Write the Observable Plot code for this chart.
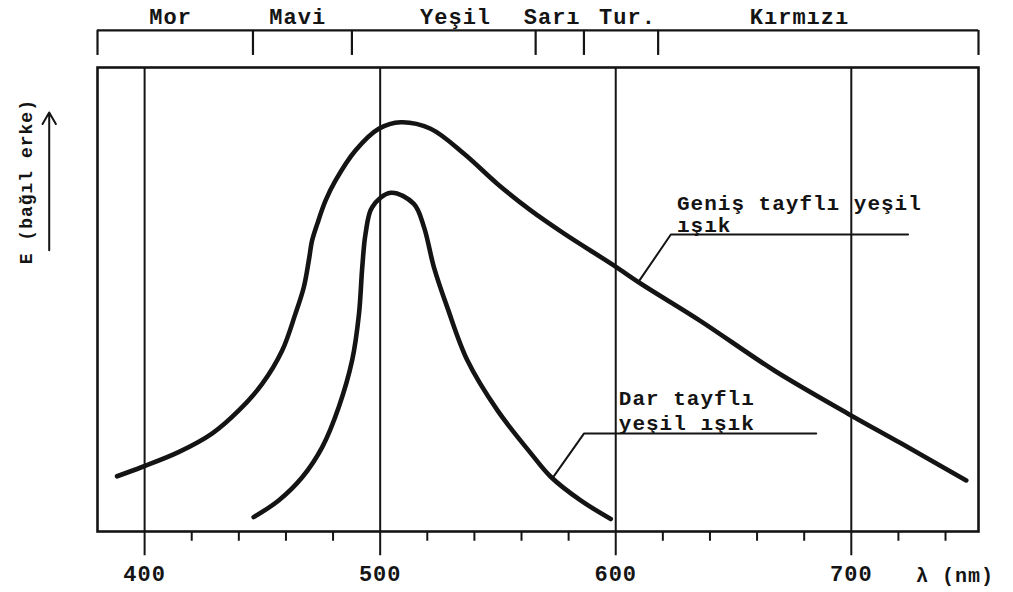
<!DOCTYPE html>
<html><head><meta charset="utf-8">
<script src="https://cdn.jsdelivr.net/npm/d3@7"></script>
<script src="https://cdn.jsdelivr.net/npm/@observablehq/plot@0.6"></script>
<style>body{margin:0;background:#fff}</style>
</head><body><div id="chart"></div>
<script>
// Broad-band green light (Geniş tayflı yeşil ışık)
const broadNm = [388.3, 398.9, 414.4, 428.6, 440.0, 449.9, 458.4, 464.0, 467.6, 469.7, 471.1, 473.3, 476.8, 481.0, 489.5, 499.4, 508.7, 521.4, 535.6, 549.8, 563.9, 578.1, 599.3, 610.7, 636.2, 667.3, 698.6, 721.1, 748.8];
const broadE  = [11.9, 13.9, 17.1, 21.1, 26.1, 31.8, 39.0, 46.9, 52.7, 58.4, 62.7, 66.3, 71.3, 75.6, 82.1, 86.8, 88.2, 86.8, 81.4, 74.9, 69.2, 64.2, 57.3, 53.4, 45.3, 34.7, 25.4, 19.0, 11.0];
// Narrow-band green light (Dar tayflı yeşil ışık)
const narrowNm = [446.3, 456.9, 466.9, 475.4, 482.4, 488.1, 491.0, 492.4, 493.8, 496.6, 504.5, 514.3, 518.6, 522.8, 528.5, 537.0, 549.8, 563.9, 572.4, 585.1, 597.9];
const narrowE  = [3.1, 6.7, 11.7, 18.2, 26.8, 36.9, 46.9, 57.0, 64.2, 69.9, 73.0, 70.6, 65.6, 57.0, 48.3, 36.9, 26.1, 16.9, 11.8, 6.7, 2.7];

// Colour bands above the chart
const bandEdges  = [380, 446, 488, 566, 586.5, 618, 754];
const bandNames  = ["Mor", "Mavi", "Yeşil", "Sarı", "Tur.", "Kırmızı"];
const bandLabelX = [411, 465, 532, 573, 605, 678];

// Axis ticks
const majorTicks = [400, 500, 600, 700];
const minorTicks = [420, 440, 460, 480, 520, 540, 560, 580, 620, 640, 660, 680, 720, 740];

// Annotations
const broadLeaderX = [609.8, 623.4, 724.1];
const broadLeaderY = [53.9, 64.0, 64.0];
const narrowLeaderX = [573.3, 586.5, 685.1];
const narrowLeaderY = [11.6, 21.1, 21.1];
const labelLines = ["Geniş tayflı yeşil", "ışık", "Dar tayflı", "yeşil ışık"];
const labelX = [626.0, 626.0, 601.3, 601.3];
const labelY = [69.2, 64.5, 27.3, 21.8];

const broad = broadNm.map((x, i) => ({x, y: broadE[i]}));
const narrow = narrowNm.map((x, i) => ({x, y: narrowE[i]}));
const bands = bandNames.map((n, i) => ({n, x: bandLabelX[i]}));
const broadLeader = broadLeaderX.map((x, i) => ({x, y: broadLeaderY[i]}));
const narrowLeader = narrowLeaderX.map((x, i) => ({x, y: narrowLeaderY[i]}));
const labels = labelLines.map((t, i) => ({t, x: labelX[i], y: labelY[i]}));

const FONT = "Liberation Mono";
const INK = "#141414";

const chart = Plot.plot({
  width: 1013, height: 592,
  marginLeft: 97, marginRight: 35, marginTop: 67, marginBottom: 61,
  x: {domain: [380, 754], axis: null},
  y: {domain: [0, 100], axis: null},
  style: {fontFamily: FONT, background: "white", color: INK, letterSpacing: "1px"},
  marks: [
    // vertical grid lines at major ticks, extending below the axis
    Plot.ruleX(majorTicks, {y1: -5.2, y2: 100, stroke: INK, strokeWidth: 2}),
    Plot.ruleX(minorTicks, {y1: 0, y2: -2.1, stroke: INK, strokeWidth: 2}),
    Plot.frame({stroke: INK, strokeWidth: 2.6}),
    Plot.axisX(majorTicks, {tickSize: 0, tickPadding: 34, label: null, fontSize: 22, fontWeight: "bold", fontFamily: FONT, tickFormat: d => String(d)}),
    Plot.text(["λ (nm)"], {x: 744.0, y: -9.6, fontSize: 20, fontWeight: "bold", fontFamily: FONT, fill: INK}),
    // colour band bracket
    Plot.ruleY([108], {x1: 380, x2: 754, stroke: INK, strokeWidth: 2.2}),
    Plot.ruleX(bandEdges, {y1: 102.6, y2: 108, stroke: INK, strokeWidth: 2.2}),
    Plot.text(bands, {x: "x", y: 109.3, text: "n", lineAnchor: "bottom", fontSize: 22, fontWeight: "bold", fontFamily: FONT, fill: INK}),
    // curves
    Plot.line(broad, {x: "x", y: "y", curve: "catmull-rom", stroke: INK, strokeWidth: 4.6, strokeLinecap: "round"}),
    Plot.line(narrow, {x: "x", y: "y", curve: "catmull-rom", stroke: INK, strokeWidth: 4.6, strokeLinecap: "round"}),
    // leader lines and labels
    Plot.line(broadLeader, {x: "x", y: "y", stroke: INK, strokeWidth: 2}),
    Plot.line(narrowLeader, {x: "x", y: "y", stroke: INK, strokeWidth: 2}),
    Plot.text(labels, {x: "x", y: "y", text: "t", textAnchor: "start", lineAnchor: "bottom", fontSize: 21, fontWeight: "bold", fontFamily: FONT, fill: INK}),
    // y label with arrow
    Plot.text(["E (bağıl erke)"], {x: 349.7, y: 75.4, rotate: -90, fontSize: 18, fontWeight: "bold", fontFamily: FONT, fill: INK}),
    Plot.arrow([0], {x1: 359.5, y1: 60.6, x2: 359.5, y2: 90.3, stroke: INK, strokeWidth: 2, headLength: 10})
  ]
});
document.getElementById("chart").append(chart);
</script>
</body></html>
